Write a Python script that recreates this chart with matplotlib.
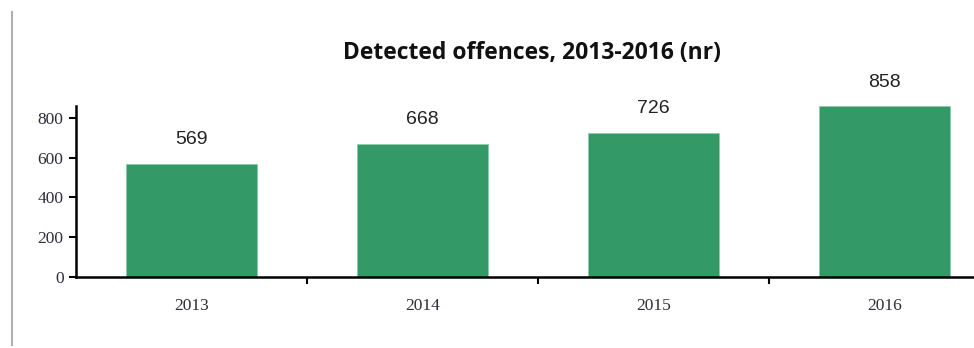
import matplotlib.pyplot as plt
from matplotlib.lines import Line2D

years = ['2013', '2014', '2015', '2016']
offences = [569, 668, 726, 858]
yticks = [0, 200, 400, 600, 800]

fig = plt.figure(figsize=(9.74, 3.48), dpi=100)
ax = fig.add_axes([76 / 974, 1 - 277 / 348, 924 / 974, 171 / 348])

x = list(range(len(years)))
ax.bar(x, offences, width=0.565, color='#339966', edgecolor='#8fcca8', linewidth=0.6, zorder=2)

for xi, v in zip(x, offences):
    ax.annotate(str(v), (xi, v), xytext=(0, 17.5), textcoords='offset points',
                ha='center', va='center', fontsize=14, family='Liberation Sans', color='#222222')

ax.set_xlim(-0.5, 3.5)
ax.set_ylim(0, 860)
ax.set_yticks(yticks)
ax.set_yticklabels([str(t) for t in yticks], family='Liberation Serif', fontsize=12.5, color='#2e2e3a')

ax.set_xticks(x)
ax.set_xticklabels(years, family='Liberation Serif', fontsize=12.5, color='#2e2e3a')
ax.tick_params(axis='x', length=0, pad=15)
ax.set_xticks([0.5, 1.5, 2.5], minor=True)
ax.tick_params(axis='x', which='minor', length=5, width=1.5, direction='out')
ax.tick_params(axis='y', length=5, width=1.5, direction='out', pad=4)

for s in ['top', 'right']:
    ax.spines[s].set_visible(False)
ax.spines['left'].set_linewidth(1.8)
ax.spines['bottom'].set_linewidth(1.8)

fig.text(532 / 974, 1 - 53 / 348, 'Detected offences, 2013-2016 (nr)', ha='center', va='center',
         fontsize=16.5, fontweight='bold', family='Open Sans', color='#111111')

fig.add_artist(Line2D([12 / 974, 12 / 974], [1 - 345 / 348, 1 - 12 / 348], color='#b0b0b0', linewidth=1.5))

fig.savefig('out.png', dpi=100)
